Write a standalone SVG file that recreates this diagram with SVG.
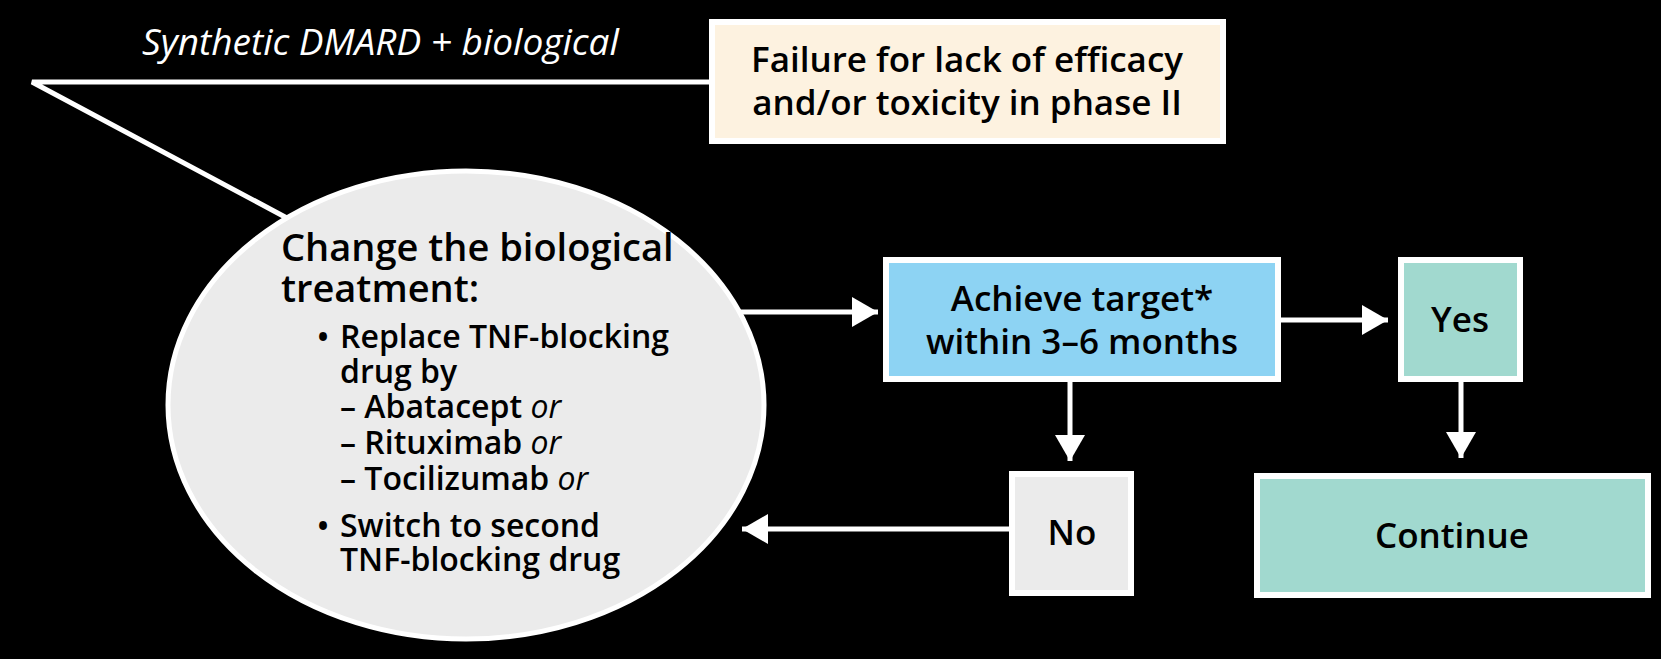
<svg xmlns="http://www.w3.org/2000/svg" width="1661" height="659" viewBox="0 0 1661 659">
<style>
text{font-family:"Open Sans","Noto Sans","DejaVu Sans",sans-serif;fill:#000;font-weight:600}
.lbl{fill:#fff;font-style:italic;font-weight:400;font-size:37px}
.box{stroke:#fff;stroke-width:6}
.t35{font-size:35px}
.t38{font-size:38px}
.t32{font-size:32px}
.or{font-style:italic;font-weight:400}
.conn{stroke:#fff;stroke-width:5;fill:none}
</style>
<defs>
<marker id="ah" markerUnits="userSpaceOnUse" markerWidth="27" markerHeight="30" refX="26" refY="15" orient="auto">
<path d="M0,0 L26,15 L0,30 Z" fill="#fff"/>
</marker>
</defs>
<rect width="1661" height="659" fill="#000"/>
<text class="lbl" x="142" y="55">Synthetic DMARD + biological</text>
<g id="connectors">
<polyline class="conn" points="712,82 32,82 300,225"/>
<line class="conn" x1="735" y1="312" x2="878" y2="312" marker-end="url(#ah)"/>
<line class="conn" x1="1281" y1="320" x2="1388" y2="320" marker-end="url(#ah)"/>
<line class="conn" x1="1070" y1="382" x2="1070" y2="461" marker-end="url(#ah)"/>
<line class="conn" x1="1461" y1="382" x2="1461" y2="458" marker-end="url(#ah)"/>
<line class="conn" x1="1009" y1="529" x2="742" y2="529" marker-end="url(#ah)"/>
</g>
<g id="failure">
<rect class="box" x="712" y="22" width="511" height="119" fill="#fdf2e0"/>
<text class="t35" x="967" y="72" text-anchor="middle">Failure for lack of efficacy</text>
<text class="t35" x="967" y="115" text-anchor="middle">and/or toxicity in phase II</text>
</g>
<g id="change">
<ellipse cx="466" cy="405" rx="298" ry="234" fill="#ebebeb" stroke="#fff" stroke-width="5"/>
<text class="t38" x="281" y="261">Change the biological</text>
<text class="t38" x="281" y="302">treatment:</text>
<text class="t32" x="317" y="348">•</text>
<text class="t32" x="340" y="348">Replace TNF-blocking</text>
<text class="t32" x="340" y="383">drug by</text>
<text class="t32" x="340" y="418">– Abatacept <tspan class="or">or</tspan></text>
<text class="t32" x="340" y="454">– Rituximab <tspan class="or">or</tspan></text>
<text class="t32" x="340" y="490">– Tocilizumab <tspan class="or">or</tspan></text>
<text class="t32" x="317" y="537">•</text>
<text class="t32" x="340" y="537">Switch to second</text>
<text class="t32" x="340" y="571">TNF-blocking drug</text>
</g>
<g id="achieve">
<rect class="box" x="886" y="260" width="392" height="119" fill="#8dd3f3"/>
<text class="t35" x="1082" y="311" text-anchor="middle">Achieve target*</text>
<text class="t35" x="1082" y="354" text-anchor="middle">within 3–6 months</text>
</g>
<g id="yes">
<rect class="box" x="1401" y="260" width="119" height="119" fill="#a1d9cf"/>
<text class="t35" x="1460" y="332" text-anchor="middle">Yes</text>
</g>
<g id="no">
<rect class="box" x="1012" y="474" width="119" height="119" fill="#ebebeb"/>
<text class="t35" x="1072" y="545" text-anchor="middle">No</text>
</g>
<g id="continue">
<rect class="box" x="1257" y="476" width="391" height="119" fill="#a1d9cf"/>
<text class="t35" x="1452" y="548" text-anchor="middle">Continue</text>
</g>
</svg>
